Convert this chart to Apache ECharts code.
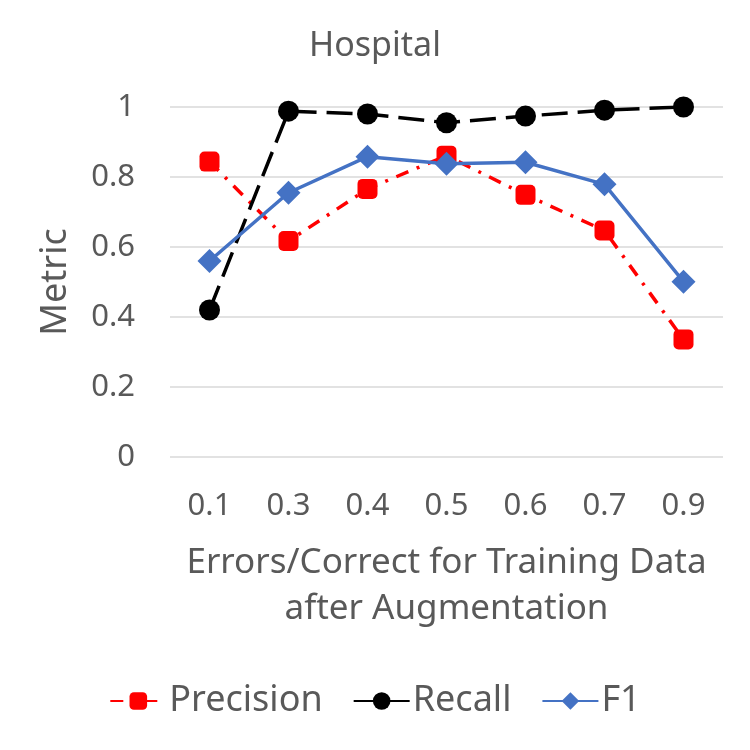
<!DOCTYPE html>
<html><head><meta charset="utf-8">
<script src="https://cdn.jsdelivr.net/npm/echarts@6/dist/echarts.min.js"></script>
<style>html,body{margin:0;padding:0;background:#fff}#c{width:750px;height:750px}</style>
</head><body><div id="c"></div>
<script>
var categories = ['0.1','0.3','0.4','0.5','0.6','0.7','0.9'];
var precision = [0.844, 0.617, 0.766, 0.861, 0.749, 0.647, 0.336];
var recall = [0.42, 0.988, 0.98, 0.955, 0.974, 0.991, 1.0];
var f1 = [0.56, 0.755, 0.858, 0.838, 0.842, 0.779, 0.501];
var yTicks = [0, 0.2, 0.4, 0.6, 0.8, 1];

var FONT = 'Noto Sans';
var TXT = '#595959';
var chart = echarts.init(document.getElementById('c'));
chart.setOption({
  animation: false,
  textStyle: {fontFamily: FONT},
  title: {text: 'Hospital', left: 'center', top: 24, textStyle: {fontFamily: FONT, fontSize: 34, fontWeight: 'normal', color: TXT}},
  grid: {left: 170, right: 27, top: 107, bottom: 293},
  legend: {
    bottom: 26, left: 'center', itemWidth: 56, itemHeight: 22, itemGap: 30,
    textStyle: {fontFamily: FONT, fontSize: 36, color: TXT, padding: [0,0,0,-2]},
    data: ['Precision','Recall','F1']
  },
  xAxis: {
    type: 'category', data: categories, boundaryGap: true,
    axisLine: {show: false}, axisTick: {show: false},
    axisLabel: {fontFamily: FONT, fontSize: 31, color: TXT, margin: 34},
    name: 'Errors/Correct for Training Data\nafter Augmentation',
    nameLocation: 'middle', nameGap: 83,
    nameTextStyle: {fontFamily: FONT, fontSize: 35, color: TXT, lineHeight: 46}
  },
  yAxis: {
    type: 'value', min: 0, max: 1, interval: 0.2,
    axisLine: {show: false}, axisTick: {show: false},
    axisLabel: {fontFamily: FONT, fontSize: 31, color: TXT, margin: 35,
      formatter: function(v){ return String(Math.round(v*10)/10); }},
    splitLine: {lineStyle: {color: '#d9d9d9', width: 1.5}},
    name: 'Metric', nameLocation: 'middle', nameGap: 96, nameRotate: 90,
    nameTextStyle: {fontFamily: FONT, fontSize: 36, color: TXT}
  },
  series: [
    {name: 'Precision', type: 'line', data: precision, symbol: 'roundRect', symbolSize: 20,
      itemStyle: {color: '#ff0000'},
      lineStyle: {color: '#ff0000', width: 3.5, type: [13, 9, 3, 9]}},
    {name: 'Recall', type: 'line', data: recall, symbol: 'circle', symbolSize: 21,
      itemStyle: {color: '#000000'},
      lineStyle: {color: '#000000', width: 3.5, type: [26, 10]}},
    {name: 'F1', type: 'line', data: f1, symbol: 'diamond', symbolSize: 24,
      itemStyle: {color: '#4472c4'},
      lineStyle: {color: '#4472c4', width: 3.5, type: 'solid'}}
  ]
});
</script></body></html>
